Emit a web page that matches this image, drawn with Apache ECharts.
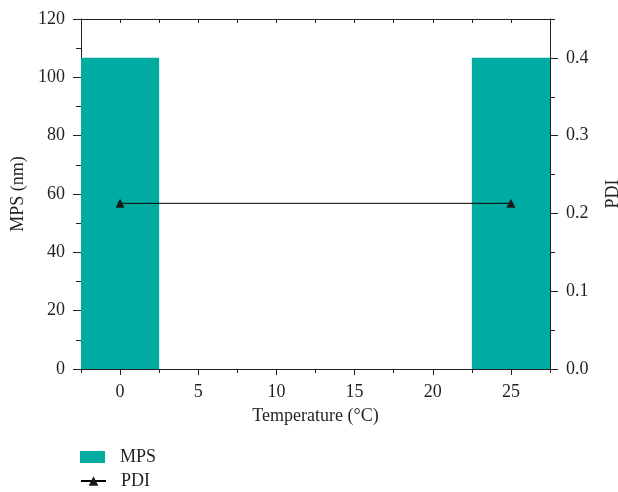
<!DOCTYPE html>
<html>
<head>
<meta charset="utf-8">
<script src="https://cdn.jsdelivr.net/npm/echarts@6/dist/echarts.min.js"></script>
<style>html,body{margin:0;padding:0;background:#fff}#c{width:618px;height:492px}</style>
</head>
<body>
<div id="c"></div>
<script>
var temperatures = [0, 25];
var mpsValues = [106.7, 106.7];
var pdiValues = [0.213, 0.213];
var xTickLabels = [0, 5, 10, 15, 20, 25];
var pdiTickLabels = [0, 0.1, 0.2, 0.3, 0.4];

var FONT = '"Liberation Serif", "DejaVu Serif", serif';
var INK = '#231f20';
var BAR_HALF = 2.5;

var chart = echarts.init(document.getElementById('c'), null, {renderer: 'canvas'});
var txt = {fontFamily: FONT, fontSize: 18, color: INK};
var gridBox = {left: 81, right: 68, top: 19, bottom: 123, containLabel: false, outerBoundsMode: 'none'};

function legendItem(name, icon, top) {
  var d = {name: name};
  if (icon) d.icon = icon;
  return {
    orient: 'vertical', left: 80, top: top, padding: 0,
    itemWidth: 25, itemHeight: 12,
    textStyle: {fontFamily: FONT, fontSize: 18, color: INK, padding: [0, 0, 0, 10]},
    data: [d]
  };
}

var option = {
  backgroundColor: '#fff',
  animation: false,
  textStyle: {fontFamily: FONT},
  grid: [Object.assign({}, gridBox), Object.assign({}, gridBox)],
  legend: [legendItem('MPS', 'rect', 448), legendItem('PDI', null, 472)],
  xAxis: [
    {
      gridIndex: 0, type: 'value', position: 'bottom', min: -2.5, max: 27.5, interval: 2.5,
      name: 'Temperature (°C)', nameLocation: 'middle', nameGap: 38,
      nameTextStyle: txt,
      axisLine: {show: true, onZero: false, lineStyle: {color: INK, width: 1}},
      axisTick: {show: true, length: 6, lineStyle: {color: INK}, customValues: xTickLabels},
      axisLabel: Object.assign({margin: 14, customValues: xTickLabels,
        formatter: function (v) { return xTickLabels.indexOf(v) >= 0 ? String(v) : ''; }}, txt),
      splitLine: {show: false}
    },
    {
      gridIndex: 0, type: 'value', position: 'top', min: -2.5, max: 27.5, interval: 2.5,
      axisLine: {show: true, onZero: false, lineStyle: {color: INK, width: 1}},
      axisTick: {show: true, inside: true, length: 4, lineStyle: {color: INK}},
      axisLabel: {show: false}, splitLine: {show: false}
    },
    {
      gridIndex: 1, type: 'value', position: 'bottom', min: -2.5, max: 27.5, interval: 2.5,
      axisLine: {show: false, onZero: false},
      axisTick: {show: true, length: 4, lineStyle: {color: INK}},
      axisLabel: {show: false}, splitLine: {show: false}
    }
  ],
  yAxis: [
    {
      gridIndex: 0, type: 'value', position: 'left', min: 0, max: 120, interval: 20,
      name: 'MPS (nm)', nameLocation: 'middle', nameGap: 54,
      nameTextStyle: txt,
      axisLine: {show: true, onZero: false, lineStyle: {color: INK, width: 1}},
      axisTick: {show: true, length: 8, lineStyle: {color: INK}},
      minorTick: {show: true, splitNumber: 2, length: 5, lineStyle: {color: INK}},
      axisLabel: Object.assign({margin: 16}, txt),
      splitLine: {show: false}, minorSplitLine: {show: false}
    },
    {
      gridIndex: 0, type: 'value', position: 'right', min: 0, max: 0.45, interval: 0.1,
      name: 'PDI', nameLocation: 'middle', nameGap: 54,
      nameTextStyle: txt,
      axisLine: {show: true, onZero: false, lineStyle: {color: INK, width: 1}},
      axisTick: {show: true, length: 8, lineStyle: {color: INK}, customValues: pdiTickLabels},
      axisLabel: Object.assign({margin: 16, customValues: pdiTickLabels,
        formatter: function (v) { return v > 0.41 ? '' : v.toFixed(1); }}, txt),
      splitLine: {show: false}
    },
    {
      gridIndex: 1, type: 'value', position: 'right', min: 0, max: 0.45, interval: 0.05,
      axisLine: {show: false, onZero: false},
      axisTick: {show: true, length: 5, lineStyle: {color: INK}},
      axisLabel: {show: false}, splitLine: {show: false}
    }
  ],
  series: [
    {
      name: 'MPS', type: 'custom', xAxisIndex: 0, yAxisIndex: 0,
      itemStyle: {color: '#00aca1'},
      data: temperatures.map(function (t, i) { return [t, mpsValues[i]]; }),
      renderItem: function (params, api) {
        var x = api.value(0), y = api.value(1);
        var p1 = api.coord([x - BAR_HALF, y]);
        var p2 = api.coord([x + BAR_HALF, 0]);
        return {
          type: 'rect',
          shape: {x: p1[0], y: p1[1], width: p2[0] - p1[0], height: p2[1] - p1[1]},
          style: {fill: '#00aca1'}
        };
      },
      z: 1
    },
    {
      name: 'PDI', type: 'line', xAxisIndex: 0, yAxisIndex: 1,
      data: temperatures.map(function (t, i) { return [t, pdiValues[i]]; }),
      symbol: 'triangle', symbolSize: 9,
      lineStyle: {color: '#000', width: 1},
      itemStyle: {color: '#1a1a1a'},
      z: 3
    }
  ]
};
chart.setOption(option);
</script>
</body>
</html>
